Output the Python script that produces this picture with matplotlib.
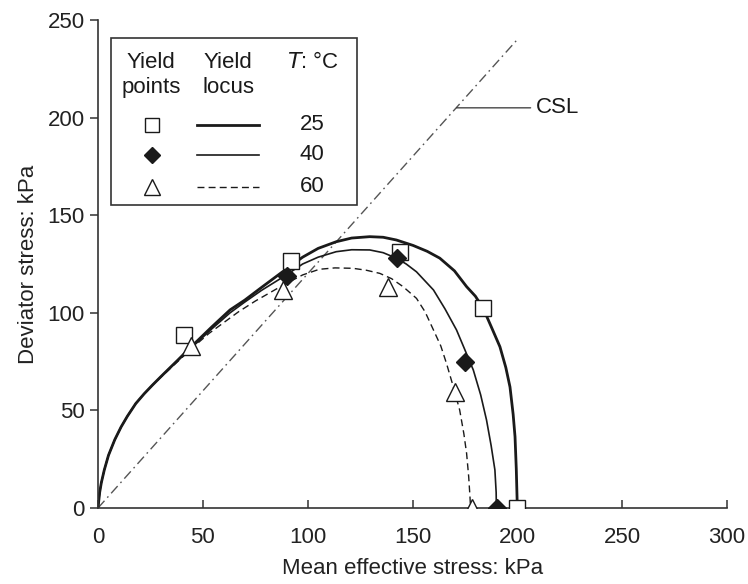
import matplotlib
matplotlib.use('Agg')
import matplotlib.pyplot as plt
from matplotlib.lines import Line2D
from matplotlib.patches import Rectangle

plt.rcParams['font.family'] = ['Liberation Sans', 'DejaVu Sans']

# yield points (p', q)
p25 = [41, 92, 144, 183.7, 199.7]
q25 = [88.6, 126.5, 131, 102.3, 0]
p40 = [90, 142.5, 175, 190.1]
q40 = [119, 127.9, 75, 0]
p60 = [44.4, 88.2, 138.3, 170.2, 178.2]
q60 = [83, 111.7, 113.4, 59.6, 0]

# yield loci
loc25_p = [0, 0.3, 0.8, 1.6, 3, 5, 8, 11, 14, 18, 22, 26, 30, 34, 38, 42, 46, 54, 63,
           70, 78, 88, 97.6, 105, 113.6, 121, 129.6, 136, 142.3, 150.3, 157, 163, 170,
           175.8, 180, 183.7, 187.5, 191.7, 194.5, 196.5, 198, 198.9, 199.5, 199.8, 200]
loc25_q = [0, 3, 8, 13, 19.5, 27, 35, 41.5, 47, 53.5, 58.5, 63, 67.3, 71.5, 75.7, 80, 84.2, 92.5, 101.5,
           106.5, 113, 121, 128.5, 133, 136.4, 138.3, 139, 138.7, 137.3, 134.5, 131.5, 128, 121.5,
           113.4, 108.5, 102.3, 93, 82.6, 72, 62, 48, 36.5, 20, 8, 0]
loc40_p = [0, 0.3, 0.8, 1.6, 3, 5, 8, 11, 14, 18, 22, 26, 30, 34, 38, 42, 46, 54, 63,
           70, 78, 90, 97.6, 105, 113.6, 121, 129.6, 136, 142.5, 147, 151.9, 160, 165.5,
           171, 175, 179, 182.5, 185.3, 187.5, 189.3, 189.9, 190]
loc40_q = [0, 3, 8, 13, 19.5, 27, 35, 41.5, 47, 53.5, 58.5, 63, 67.3, 71.5, 75.5, 79.5, 83.5, 91.5, 100,
           105.5, 111.5, 119.5, 125, 128.5, 131.3, 132.3, 132.2, 130.8, 127.9, 125, 121, 111.7, 102,
           91.2, 81, 70.7, 58, 45.1, 32, 19.5, 8, 0]
loc60_p = [0, 0.3, 0.8, 1.6, 3, 5, 8, 11, 14, 18, 22, 26, 30, 34, 38, 42, 46, 53, 60,
           67, 75, 88, 97.6, 105.6, 113, 121.6, 128, 134.4, 140, 145.5, 151.9, 156, 160,
           163.5, 166.2, 169.5, 172.5, 174.5, 175.8, 176.8, 177.4, 177.7]
loc60_q = [0, 3, 8, 13, 19.5, 27, 35, 41.5, 47, 53.5, 58.5, 63, 67, 71, 75, 79, 83, 89.5, 95,
           100.5, 106, 114, 119.4, 122.3, 123, 122.8, 121.8, 120.2, 117.5, 113.4, 107.4, 100.5, 91.2,
           83, 74.1, 62, 50.2, 38, 28, 16, 6, 0]

# critical state line
csl_p = [0, 200]
csl_q = [0, 240]

temps = ['25', '40', '60']

fs = 16
fig = plt.figure(figsize=(7.48, 5.84), dpi=100)
ax = fig.add_axes([98/748, 76/584, 629/748, 488/584])

k = '#1a1a1a'
ax.plot(csl_p, csl_q, color='#555555', lw=1.0, dashes=(7, 3, 1.2, 3))
ax.plot(loc25_p, loc25_q, color=k, lw=2.0, solid_joinstyle='round')
ax.plot(loc40_p, loc40_q, color=k, lw=1.2, solid_joinstyle='round')
ax.plot(loc60_p, loc60_q, color=k, lw=1.0, dashes=(5, 3))

ax.plot(p25, q25, 's', ms=12, mfc='white', mec=k, mew=1.0, ls='none', zorder=5)
ax.plot(p40, q40, 'D', ms=9, mfc=k, mec=k, ls='none', zorder=5)
ax.plot(p60, q60, '^', ms=13, mfc='white', mec=k, mew=1.0, ls='none', zorder=5)

ax.annotate('CSL', xy=(171, 205), xytext=(209, 205), fontsize=fs, color=k,
            va='center', ha='left',
            arrowprops=dict(arrowstyle='-', lw=0.9, color='#333333', shrinkA=2, shrinkB=0))

ax.set_xlim(0, 300)
ax.set_ylim(0, 250)
ax.set_xticks(range(0, 301, 50))
ax.set_yticks(range(0, 251, 50))
ax.spines['top'].set_visible(False)
ax.spines['right'].set_visible(False)
for s in ('left', 'bottom'):
    ax.spines[s].set_linewidth(1.2)
    ax.spines[s].set_color('#333333')
ax.tick_params(axis='x', direction='in', length=6, width=1.1, labelsize=fs, pad=14,
               colors='#333333', labelcolor='#222222')
ax.tick_params(axis='y', direction='out', length=6, width=1.1, labelsize=fs,
               colors='#333333', labelcolor='#222222')
ax.set_xlabel('Mean effective stress: kPa', fontsize=fs, color='#222222', labelpad=7)
ax.set_ylabel('Deviator stress: kPa', fontsize=fs, color='#222222', labelpad=6)

# hand-built legend table
def fx(x):
    return x / 748
def fy(y):
    return 1 - y / 584

fig.patches.append(Rectangle((fx(111), fy(205)), fx(357) - fx(111), fy(38) - fy(205),
                             transform=fig.transFigure, fill=False, ec='#333333', lw=1.2))
hs = dict(fontsize=fs, ha='center', va='center', color=k)
fig.text(fx(151), fy(62), 'Yield', **hs)
fig.text(fx(151), fy(88), 'points', **hs)
fig.text(fx(228), fy(62), 'Yield', **hs)
fig.text(fx(228), fy(88), 'locus', **hs)
fig.text(fx(313), fy(62), r'$\it{T}$: °C', **hs)

rows = [125, 155, 187]
mk = [dict(marker='s', ms=10, mfc='white', mec=k),
      dict(marker='D', ms=8, mfc=k, mec=k),
      dict(marker='^', ms=11, mfc='white', mec=k)]
ls = [dict(lw=2.0), dict(lw=1.2), dict(lw=1.0, dashes=(5, 3))]
for y, t, m, l in zip(rows, temps, mk, ls):
    fig.lines.append(Line2D([fx(152)], [fy(y)], transform=fig.transFigure, ls='none', **m))
    fig.lines.append(Line2D([fx(197), fx(259)], [fy(y), fy(y)], transform=fig.transFigure,
                            color=k, **l))
    fig.text(fx(312), fy(y), t, **hs)

fig.savefig('out.png', dpi=100)
